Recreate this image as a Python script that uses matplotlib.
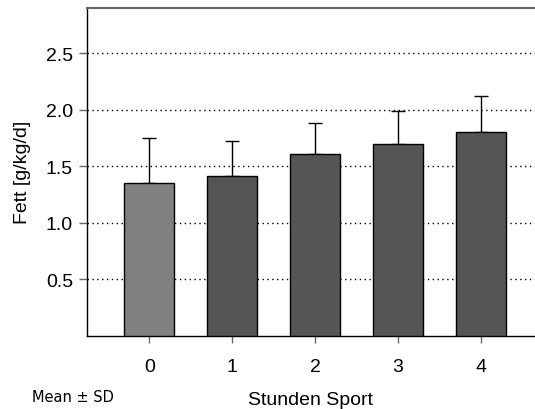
import matplotlib
matplotlib.use("Agg")
import matplotlib.pyplot as plt

categories = ["0", "1", "2", "3", "4"]
means = [1.35, 1.41, 1.61, 1.70, 1.80]
sds = [0.40, 0.31, 0.27, 0.29, 0.32]
bar_colors = ["#808080", "#555555", "#555555", "#555555", "#555555"]
yticks = [0.5, 1.0, 1.5, 2.0, 2.5]

plt.rcParams['font.family'] = ['Liberation Sans', 'DejaVu Sans']

fig = plt.figure(figsize=(5.35, 4.10), dpi=100)
ax = fig.add_axes([87/535, 1 - 336.5/410, (535-87)/535, (336.5-9)/410])

x = list(range(len(categories)))
ax.bar(x, means, width=0.6, color=bar_colors, edgecolor="black", linewidth=1.0, zorder=3)
ax.errorbar(x, means, yerr=[[0]*len(sds), sds], fmt="none", ecolor="black",
            elinewidth=1.0, capsize=5, capthick=1.0, zorder=2)

ax.set_xlim(-0.75, 4.65)
ax.set_ylim(0, 2.9)
ax.set_yticks(yticks)
ax.set_yticklabels([f"{v:.1f}" for v in yticks])
ax.set_xticks(x)
ax.set_xticklabels(categories)
ax.yaxis.grid(True, linestyle=(0, (1, 2.5)), color="black", linewidth=1.0, zorder=0)
ax.set_axisbelow(True)

ax.spines['right'].set_visible(False)
ax.spines['top'].set_color("#666666")
ax.spines['top'].set_linewidth(1.5)
ax.spines['left'].set_linewidth(1.0)
ax.spines['bottom'].set_linewidth(1.0)
ax.tick_params(axis='y', direction='out', length=6, width=1, color="#666666", labelsize=14, pad=4)
ax.tick_params(axis='x', direction='out', length=5, width=1, color="#666666", labelsize=14, pad=11.5)

ax.set_xlabel("Stunden Sport", fontsize=14, labelpad=11)
ax.set_ylabel("Fett [g/kg/d]", fontsize=14, labelpad=11)

fig.text(32/535, 1 - 398/410, "Mean \u00b1 SD", fontsize=10.5, va="center", ha="left",
         family=['DejaVu Sans'])

fig.savefig("out.png", dpi=100)
